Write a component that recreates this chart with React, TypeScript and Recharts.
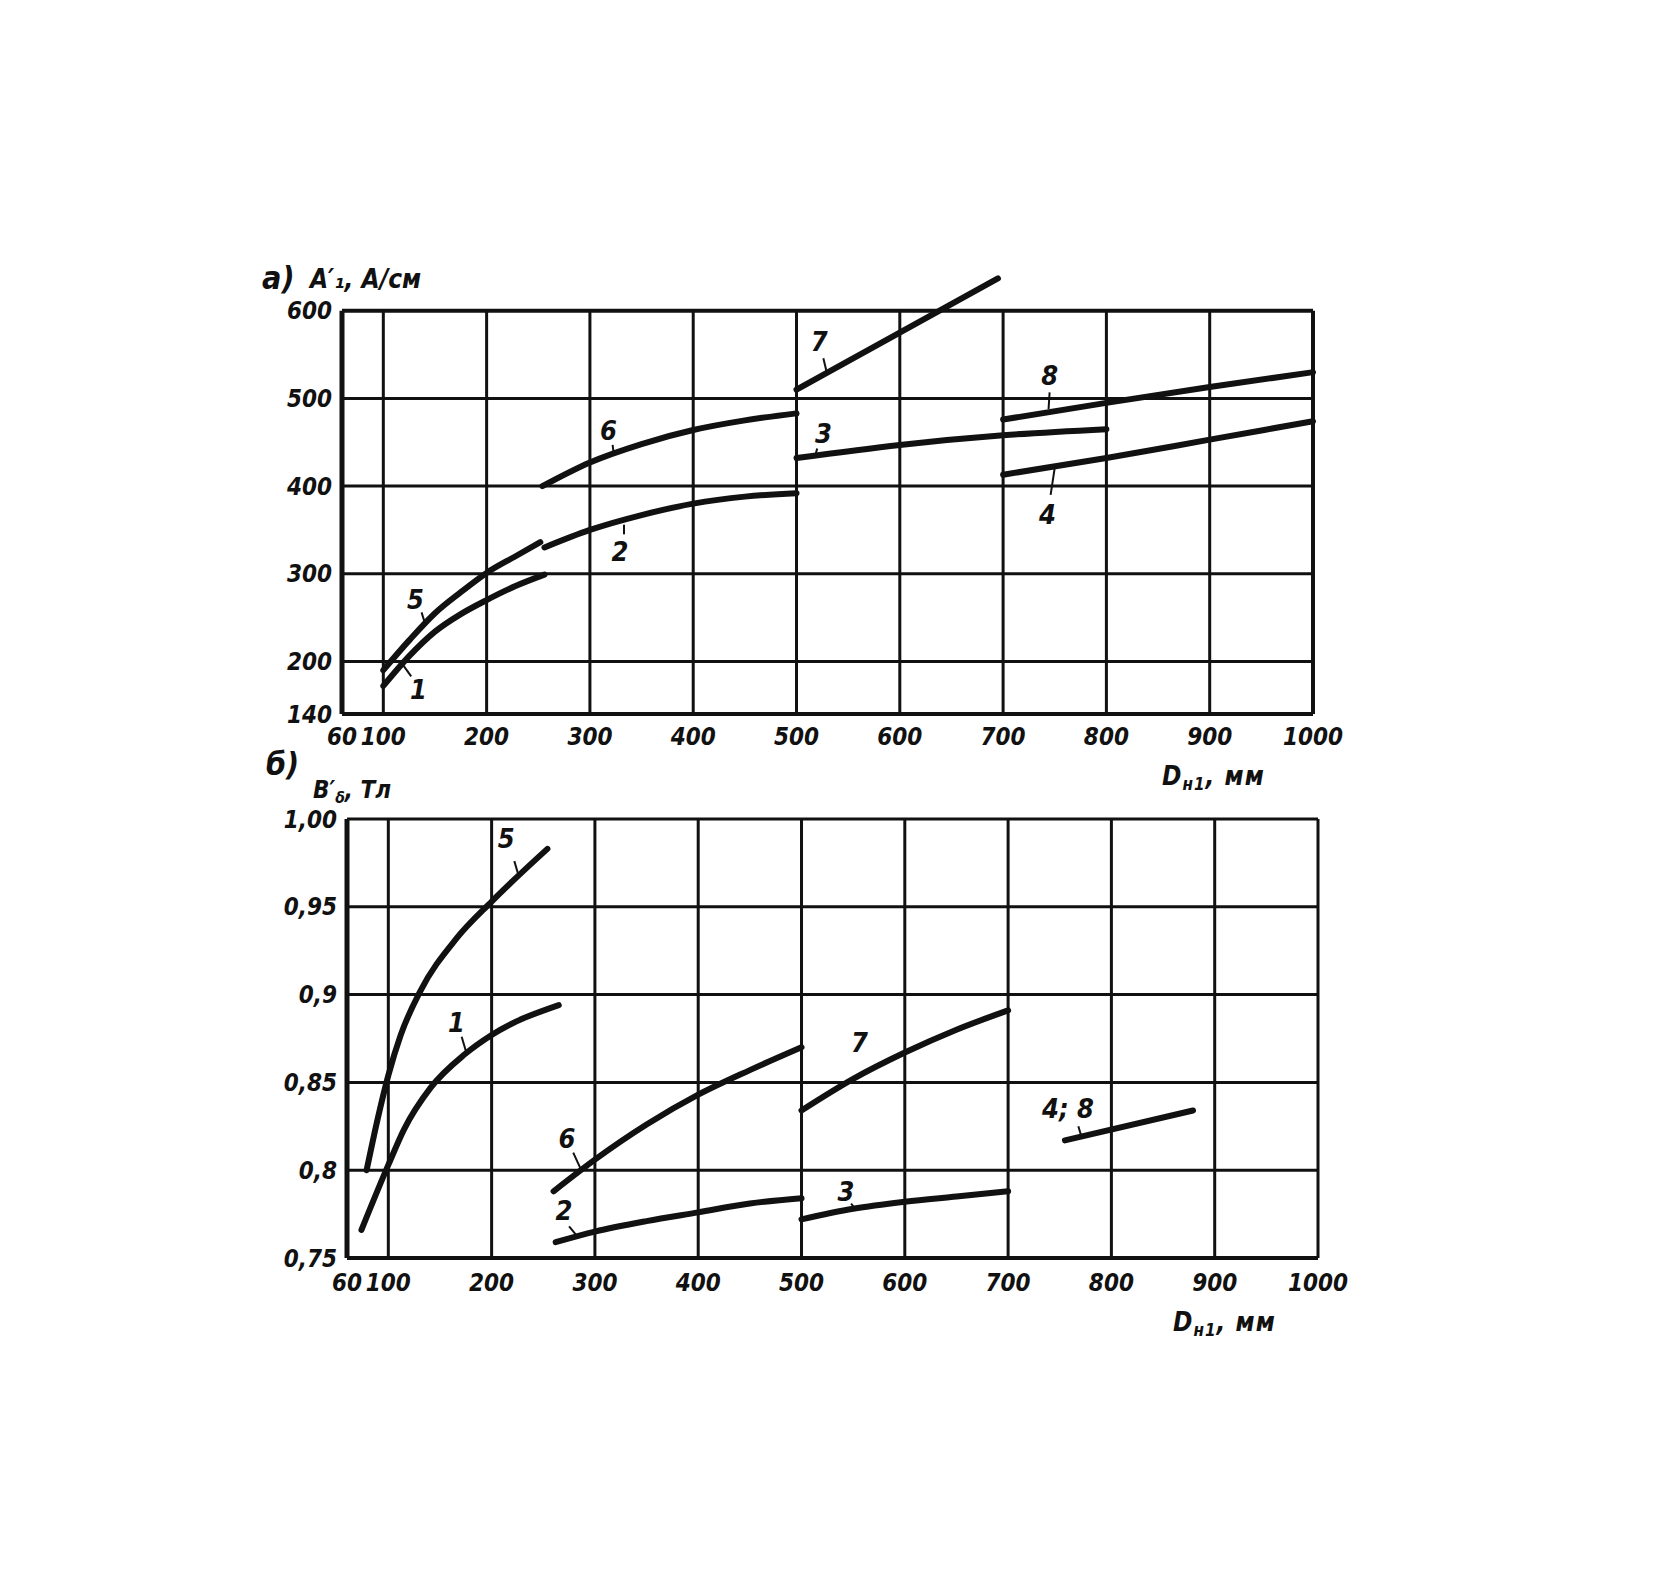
import { LineChart, Line, XAxis, YAxis, CartesianGrid, ReferenceLine, ReferenceDot } from 'recharts'

const FONT = "'DejaVu Sans Condensed', 'Liberation Sans Narrow', 'DejaVu Sans', sans-serif"
const INK = '#111'

// shared x axis (D_н1, мм)
const xTicks = [60, 100, 200, 300, 400, 500, 600, 700, 800, 900, 1000]
const xGrid = [100, 200, 300, 400, 500, 600, 700, 800, 900, 1000]

// a) A'1, A/см
const aYTicks = [140, 200, 300, 400, 500, 600]
const aCurve1 = [
  { d: 100, v: 172 }, { d: 125, v: 206 }, { d: 150, v: 234 }, { d: 175, v: 254 },
  { d: 200, v: 270 }, { d: 228, v: 286 }, { d: 256, v: 299 },
]
const aCurve5 = [
  { d: 100, v: 190 }, { d: 125, v: 224 }, { d: 150, v: 255 }, { d: 175, v: 279 },
  { d: 200, v: 301 }, { d: 228, v: 320 }, { d: 252, v: 336 },
]
const aCurve2 = [
  { d: 256, v: 330 }, { d: 300, v: 350 }, { d: 350, v: 367 }, { d: 400, v: 380 },
  { d: 450, v: 388 }, { d: 500, v: 392 },
]
const aCurve6 = [
  { d: 254, v: 400 }, { d: 300, v: 427 }, { d: 350, v: 448 }, { d: 400, v: 464 },
  { d: 450, v: 475 }, { d: 500, v: 483 },
]
const aCurve3 = [{ d: 500, v: 432 }, { d: 600, v: 447 }, { d: 700, v: 458 }, { d: 800, v: 465 }]
const aCurve7 = [{ d: 500, v: 510 }, { d: 695, v: 637 }]
const aCurve4 = [{ d: 700, v: 413 }, { d: 800, v: 432 }, { d: 900, v: 453 }, { d: 1000, v: 474 }]
const aCurve8 = [{ d: 700, v: 476 }, { d: 800, v: 495 }, { d: 900, v: 513 }, { d: 1000, v: 530 }]

const aLabels = [
  { text: '5', d: 131, v: 271 },
  { text: '1', d: 134, v: 168 },
  { text: '6', d: 318, v: 463 },
  { text: '2', d: 329, v: 326 },
  { text: '3', d: 526, v: 460 },
  { text: '4', d: 743, v: 368 },
  { text: '7', d: 522, v: 565 },
  { text: '8', d: 745, v: 526 },
]
const aLeaders = [
  { d1: 137, v1: 256, d2: 141, v2: 241 },
  { d1: 127, v1: 183, d2: 119, v2: 196 },
  { d1: 322, v1: 447, d2: 323, v2: 437 },
  { d1: 333, v1: 345, d2: 333, v2: 356 },
  { d1: 520, v1: 443, d2: 518, v2: 434 },
  { d1: 746, v1: 390, d2: 750, v2: 421 },
  { d1: 526, v1: 546, d2: 529, v2: 531 },
  { d1: 745, v1: 507, d2: 744, v2: 488 },
]

// б) B'δ, Тл
const bYTicks = [0.75, 0.8, 0.85, 0.9, 0.95, 1.0]
const bYLabels = ['0,75', '0,8', '0,85', '0,9', '0,95', '1,00']
const bCurve5 = [
  { d: 79, v: 0.8 }, { d: 90, v: 0.83 }, { d: 100, v: 0.854 }, { d: 112, v: 0.877 },
  { d: 131, v: 0.902 }, { d: 166, v: 0.932 }, { d: 200, v: 0.953 }, { d: 254, v: 0.983 },
]
const bCurve1 = [
  { d: 74, v: 0.766 }, { d: 100, v: 0.803 }, { d: 115, v: 0.823 }, { d: 141, v: 0.847 },
  { d: 174, v: 0.866 }, { d: 200, v: 0.877 }, { d: 265, v: 0.894 },
]
const bCurve6 = [
  { d: 260, v: 0.788 }, { d: 300, v: 0.806 }, { d: 350, v: 0.826 }, { d: 400, v: 0.843 },
  { d: 450, v: 0.857 }, { d: 500, v: 0.87 },
]
const bCurve2 = [
  { d: 262, v: 0.759 }, { d: 300, v: 0.765 }, { d: 350, v: 0.771 }, { d: 400, v: 0.776 },
  { d: 450, v: 0.781 }, { d: 500, v: 0.784 },
]
const bCurve7 = [{ d: 500, v: 0.834 }, { d: 550, v: 0.852 }, { d: 600, v: 0.867 }, { d: 650, v: 0.88 }, { d: 700, v: 0.891 }]
const bCurve3 = [{ d: 500, v: 0.772 }, { d: 550, v: 0.778 }, { d: 600, v: 0.782 }, { d: 650, v: 0.785 }, { d: 700, v: 0.788 }]
const bCurve48 = [{ d: 755, v: 0.817 }, { d: 879, v: 0.834 }]

const bLabels = [
  { text: '5', d: 214, v: 0.989 },
  { text: '1', d: 166, v: 0.884 },
  { text: '6', d: 273, v: 0.818 },
  { text: '2', d: 270, v: 0.777 },
  { text: '7', d: 556, v: 0.873 },
  { text: '3', d: 543, v: 0.788 },
  { text: '4; 8', d: 758, v: 0.835 },
]
const bLeaders = [
  { d1: 222, v1: 0.976, d2: 226, v2: 0.968 },
  { d1: 171, v1: 0.876, d2: 175, v2: 0.868 },
  { d1: 279, v1: 0.81, d2: 286, v2: 0.801 },
  { d1: 275, v1: 0.768, d2: 282, v2: 0.763 },
  { d1: 548, v1: 0.781, d2: 552, v2: 0.778 },
  { d1: 768, v1: 0.825, d2: 771, v2: 0.819 },
]

const tickStyle = { fill: INK, fontSize: 24, fontStyle: 'italic', fontWeight: 700, fontFamily: FONT }
const labelStyle = { fill: INK, fontSize: 27, fontStyle: 'italic', fontWeight: 700, fontFamily: FONT }

const curve = (data: { d: number; v: number }[], key: string) => (
  <Line
    key={key}
    data={data}
    dataKey="v"
    type="monotone"
    stroke={INK}
    strokeWidth={6}
    strokeLinecap="round"
    dot={false}
    activeDot={false}
    isAnimationActive={false}
  />
)

const titleStyle: React.CSSProperties = {
  position: 'absolute',
  fontFamily: FONT,
  fontStyle: 'italic',
  fontWeight: 700,
  color: INK,
  lineHeight: 1,
  whiteSpace: 'nowrap',
}

const sub: React.CSSProperties = { fontSize: '0.65em', position: 'relative', top: '0.3em' }

function ChartA() {
  return (
    <LineChart width={1091} height={507} margin={{ top: 10, right: 40, bottom: 0, left: 0 }}>
      {aYTicks.map((y) => (
        <ReferenceLine key={`ha${y}`} y={y} stroke={INK} strokeWidth={y === 600 ? 4 : 3} />
      ))}
      {xGrid.map((x) => (
        <ReferenceLine key={`ga${x}`} segment={[{ x, y: 140 }, { x, y: 600 }]} stroke={INK} strokeWidth={x === 1000 ? 4 : 3} />
      ))}
      <ReferenceLine segment={[{ x: 60, y: 140 }, { x: 60, y: 600 }]} stroke={INK} strokeWidth={5} />
      <XAxis
        type="number"
        dataKey="d"
        domain={[60, 1000]}
        ticks={xTicks}
        interval={0}
        tickLine={false}
        axisLine={{ stroke: INK, strokeWidth: 4 }}
        tick={tickStyle}
        tickMargin={8}
        height={50}
      />
      <YAxis
        type="number"
        domain={[140, 650]}
        ticks={aYTicks}
        interval={0}
        tickLine={false}
        axisLine={false}
        tick={tickStyle}
        tickSize={8}
        width={80}
      />
      {curve(aCurve1, 'a1')}
      {curve(aCurve5, 'a5')}
      {curve(aCurve2, 'a2')}
      {curve(aCurve6, 'a6')}
      {curve(aCurve3, 'a3')}
      {curve(aCurve7, 'a7')}
      {curve(aCurve4, 'a4')}
      {curve(aCurve8, 'a8')}
      {aLeaders.map((l, i) => (
        <ReferenceLine key={`la${i}`} segment={[{ x: l.d1, y: l.v1 }, { x: l.d2, y: l.v2 }]} stroke={INK} strokeWidth={2} />
      ))}
      {aLabels.map((l) => (
        <ReferenceDot
          key={`ta${l.text}`}
          x={l.d}
          y={l.v}
          r={0}
          fill="none"
          stroke="none"
          label={{ value: l.text, position: 'center', ...labelStyle }}
        />
      ))}
    </LineChart>
  )
}

function ChartB() {
  return (
    <LineChart width={1091} height={509} margin={{ top: 20, right: 40, bottom: 0, left: 0 }}>
      <CartesianGrid stroke={INK} strokeWidth={3} />
      <XAxis
        type="number"
        dataKey="d"
        domain={[60, 1000]}
        ticks={xTicks}
        interval={0}
        tickLine={false}
        axisLine={{ stroke: INK, strokeWidth: 4 }}
        tick={tickStyle}
        tickMargin={10}
        height={50}
      />
      <YAxis
        type="number"
        domain={[0.75, 1.0]}
        ticks={bYTicks}
        interval={0}
        tickLine={false}
        axisLine={{ stroke: INK, strokeWidth: 5 }}
        tick={tickStyle}
        tickSize={8}
        tickFormatter={(v: number) => bYLabels[bYTicks.indexOf(v)] ?? String(v)}
        width={80}
      />
      {curve(bCurve5, 'b5')}
      {curve(bCurve1, 'b1')}
      {curve(bCurve6, 'b6')}
      {curve(bCurve2, 'b2')}
      {curve(bCurve7, 'b7')}
      {curve(bCurve3, 'b3')}
      {curve(bCurve48, 'b48')}
      {bLeaders.map((l, i) => (
        <ReferenceLine key={`lb${i}`} segment={[{ x: l.d1, y: l.v1 }, { x: l.d2, y: l.v2 }]} stroke={INK} strokeWidth={2} />
      ))}
      {bLabels.map((l) => (
        <ReferenceDot
          key={`tb${l.text}`}
          x={l.d}
          y={l.v}
          r={0}
          fill="none"
          stroke="none"
          label={{ value: l.text, position: 'center', ...labelStyle }}
        />
      ))}
    </LineChart>
  )
}

export default function App() {
  return (
    <div style={{ position: 'relative', width: 1648, height: 1577, background: '#fff' }}>
      <div style={{ position: 'absolute', left: 254, top: 249 }}>
        <ChartA />
      </div>
      <div style={{ position: 'absolute', left: 259, top: 791 }}>
        <ChartB />
      </div>

      {/* axis titles */}
      <div style={{ ...titleStyle, left: 254, top: 254, fontSize: 32 }}>а)</div>
      <div style={{ ...titleStyle, left: 302, top: 258, fontSize: 26 }}>A′₁, A/см</div>
      <div style={{ ...titleStyle, left: 1154, top: 755, fontSize: 26, letterSpacing: 1 }}>
        D<span style={sub}>н1</span>, мм
      </div>

      <div style={{ ...titleStyle, left: 258, top: 740, fontSize: 32 }}>б)</div>
      <div style={{ ...titleStyle, left: 305, top: 770, fontSize: 24 }}>
        B′<span style={sub}>δ</span>, Тл
      </div>
      <div style={{ ...titleStyle, left: 1165, top: 1301, fontSize: 26, letterSpacing: 1 }}>
        D<span style={sub}>н1</span>, мм
      </div>
    </div>
  )
}
